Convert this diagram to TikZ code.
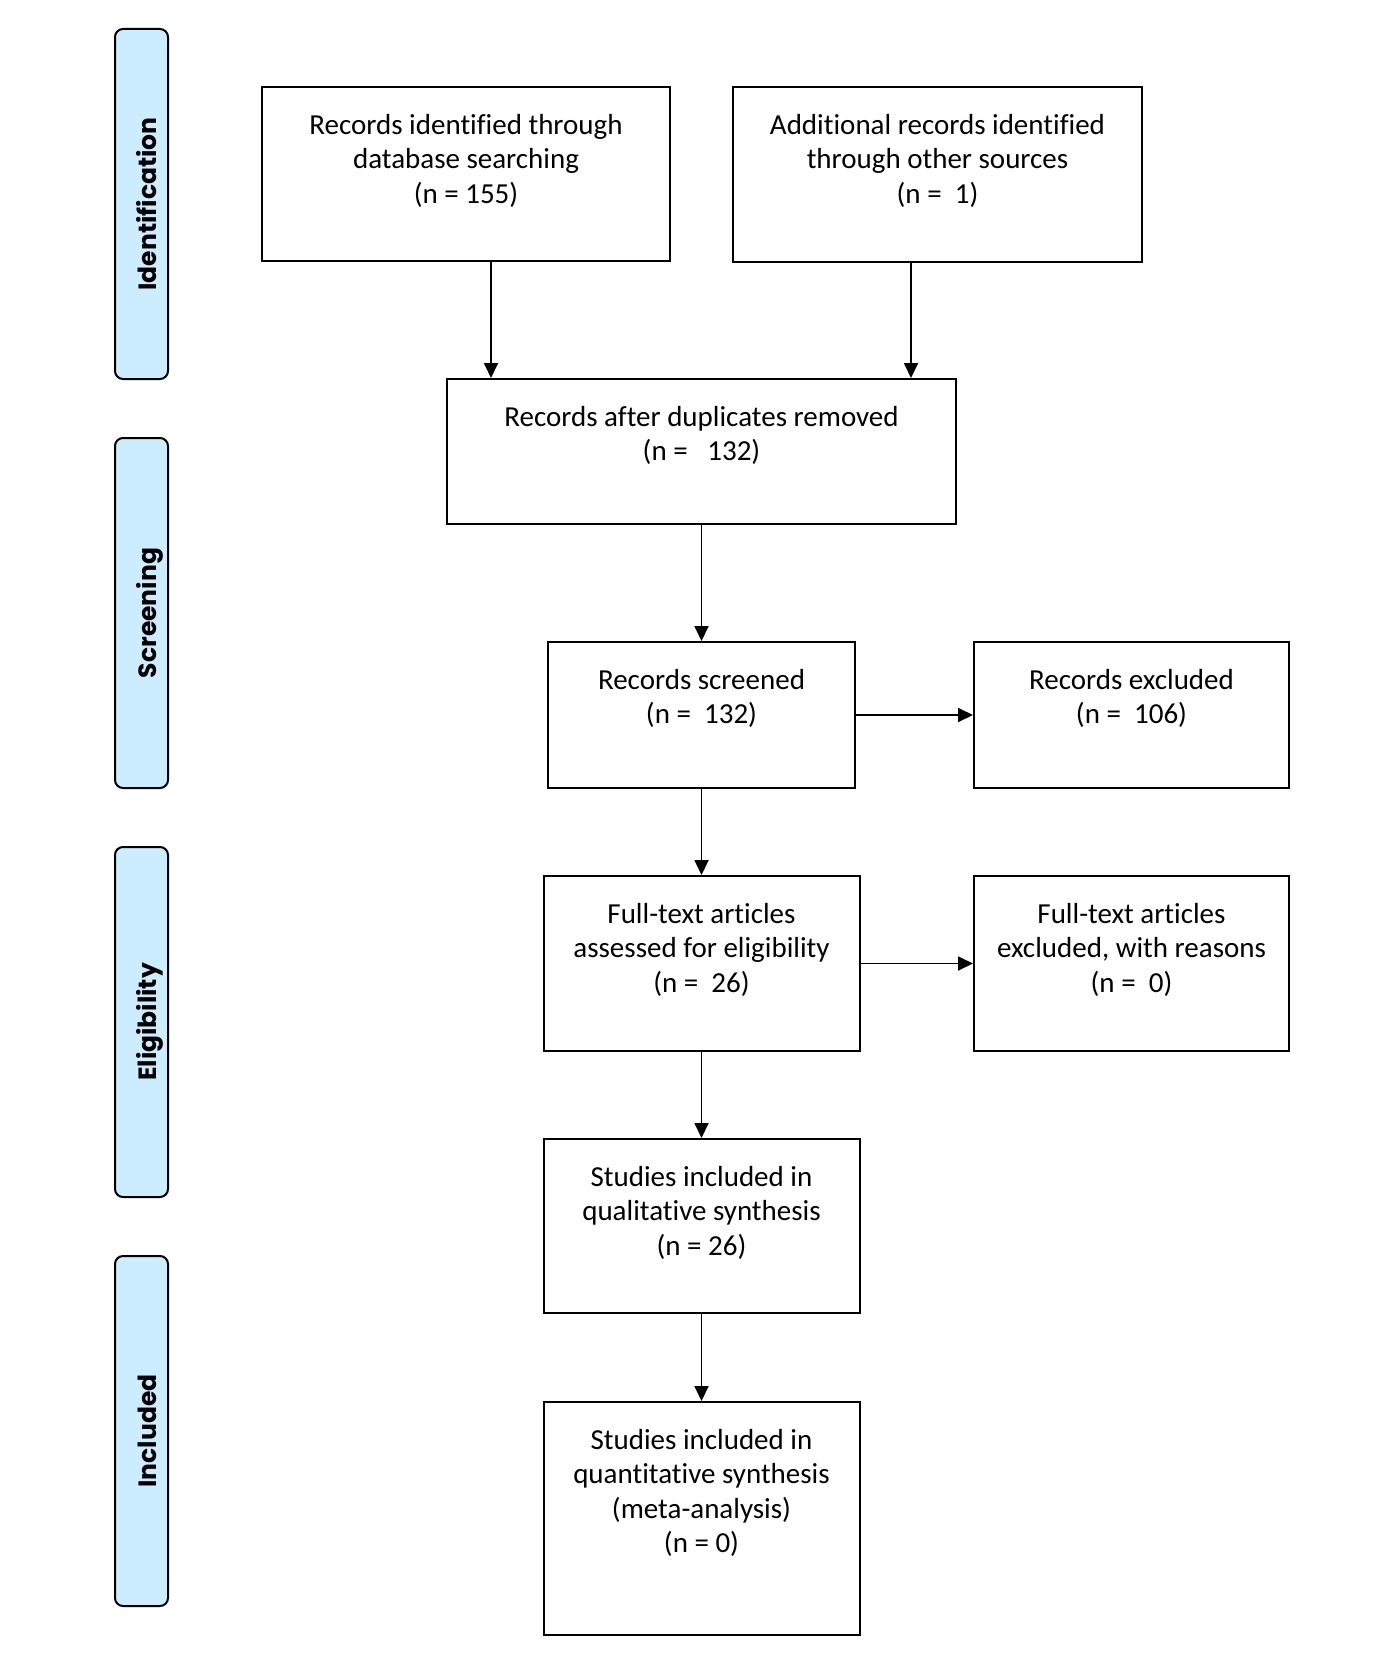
\documentclass[tikz,border=0pt]{standalone}
\usepackage{fontspec}
\setmainfont{Carlito}[Ligatures=NoCommon]
\newfontfamily\sidefont{Poppins}
\usetikzlibrary{arrows.meta,positioning}
\definecolor{sideblue}{RGB}{204,236,255}
\tikzset{
    box/.style={draw, line width=2pt, inner sep=0pt},
    txt/.style={align=center, inner sep=0pt, font=\fontsize{29}{34.5}\selectfont},
    side/.style={draw, line width=2pt, fill=sideblue, rounded corners=8pt,
        minimum width=53pt, minimum height=350pt},
    sidetxt/.style={rotate=90, anchor=base, font=\sidefont\bfseries\fontsize{25}{30}\selectfont},
    arr/.style={-{Triangle[length=15pt, width=14pt]}, line width=1.8pt}
}
\begin{document}
\begin{tikzpicture}[x=1pt, y=-1pt]
                \useasboundingbox (0, 0) rectangle (1394, 1667);
                \foreach \lbl [count=\i] in {Identification, Screening, Eligibility, Included} {
                    \node [side] (bar\i) at (141.5, {204 + 409*(\i-1)}) {};
                    \node [sidetxt] (bartxt\i) at (156, {204 + 409*(\i-1)}) {\lbl};
                }
                \node [box, minimum width=408pt, minimum height=174pt] (db) at (466, 174) {};
                \node [box, minimum width=409pt, minimum height=175pt] (other) at (937.5, 174.5) {};
                \node [box, minimum width=509pt, minimum height=145pt] (dup) at (701.5, 451.5) {};
                \node [box, minimum width=307pt, minimum height=146pt] (scr) at (701.5, 715) {};
                \node [box, minimum width=315pt, minimum height=146pt] (excl) at (1131.5, 715) {};
                \node [box, minimum width=316pt, minimum height=175pt] (full) at (701.5, 963.5) {};
                \node [box, minimum width=315pt, minimum height=175pt] (fexcl) at (1131.5, 963.5) {};
                \node [box, minimum width=316pt, minimum height=174pt] (qual) at (701.5, 1226) {};
                \node [box, minimum width=316pt, minimum height=233pt] (quant) at (701.5, 1518.5) {};
                \node [txt, below=28pt of db.north] (dbtxt) {Records identified through\\database searching\\(n = 155)};
                \node [txt, below=28pt of other.north] (othertxt) {Additional records identified\\through other sources\\(n =\ \ 1)};
                \node [txt, below=28pt of dup.north] (duptxt) {Records after duplicates removed\\(n =\ \ \ 132)};
                \node [txt, below=28pt of scr.north] (scrtxt) {Records screened\\(n =\ \ 132)};
                \node [txt, below=28pt of excl.north] (excltxt) {Records excluded\\(n =\ \ 106)};
                \node [txt, below=28pt of full.north] (fulltxt) {Full-text articles\\assessed for eligibility\\(n =\ \ 26)};
                \node [txt, below=28pt of fexcl.north] (fexcltxt) {Full-text articles\\excluded, with reasons\\(n =\ \ 0)};
                \node [txt, below=28pt of qual.north] (qualtxt) {Studies included in\\qualitative synthesis\\(n = 26)};
                \node [txt, below=28pt of quant.north] (quanttxt) {Studies included in\\quantitative synthesis\\(meta-analysis)\\(n = 0)};
                \draw [arr] ([xshift=25pt]db.south) -- ([xshift=25pt]db.south |- dup.north);
                \draw [arr] ([xshift=-26.5pt]other.south) -- ([xshift=-26.5pt]other.south |- dup.north);
                \draw [arr] (dup) -- (scr);
                \draw [arr] (scr) -- (excl);
                \draw [arr] (scr) -- (full);
                \draw [arr] (full) -- (fexcl);
                \draw [arr] (full) -- (qual);
                \draw [arr] (qual) -- (quant);
            \end{tikzpicture}
\end{document}
